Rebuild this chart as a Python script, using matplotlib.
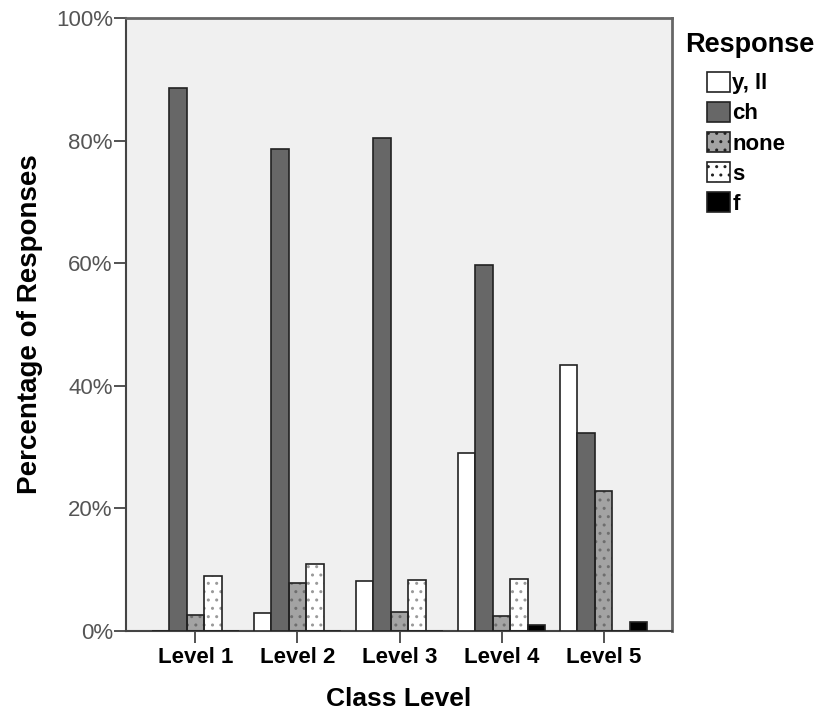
import numpy as np
import matplotlib.pyplot as plt
from matplotlib.patches import Patch

plt.rcParams['font.family'] = ['Liberation Sans', 'DejaVu Sans']

levels = ["Level 1", "Level 2", "Level 3", "Level 4", "Level 5"]
responses = ["y, ll", "ch", "none", "s", "f"]
y_ll = [0.0, 2.9, 8.2, 29.0, 43.4]
ch = [88.5, 78.6, 80.4, 59.7, 32.3]
none = [2.6, 7.8, 3.1, 2.4, 22.9]
s = [9.0, 10.9, 8.3, 8.5, 0.0]
f = [0.0, 0.0, 0.0, 1.0, 1.5]
series = [y_ll, ch, none, s, f]

fills = ["white", "#676767", "#a3a3a3", "white", "black"]
hatches = [None, None, "..", "..", None]
hatch_cols = [None, None, "#6e6e6e", "#9a9a9a", None]

fig = plt.figure(figsize=(8.2, 7.13), dpi=100)
ax = fig.add_axes([0.1537, 0.115, 0.6658, 0.8598])
ax.set_facecolor("#f0f0f0")

x = np.arange(len(levels))
w = 0.172
for i, vals in enumerate(series):
    pos = x + (i - 2) * w
    if hatches[i]:
        # hatch layer first, then the outline on top
        ax.bar(pos, vals, w, color=fills[i], hatch=hatches[i],
               edgecolor=hatch_cols[i], linewidth=0, zorder=2)
        ax.bar(pos, vals, w, fill=False, edgecolor="#222222",
               linewidth=1.2, zorder=3)
    else:
        ax.bar(pos, vals, w, color=fills[i], edgecolor="#222222",
               linewidth=1.2, zorder=3)

ax.set_xlim(-0.68, 4.67)
ax.set_ylim(0, 100)
ax.set_yticks([0, 20, 40, 60, 80, 100])
ax.set_yticklabels([f"{v}%" for v in range(0, 101, 20)], color="#555555",
                   fontsize=16)
ax.set_xticks(x)
ax.set_xticklabels(levels, fontsize=16, fontweight="bold")
ax.tick_params(axis="both", length=8.5, width=1.3, color="#444444")
ax.tick_params(axis="x", pad=3)
ax.tick_params(axis="y", pad=1)

for side in ["left", "bottom"]:
    ax.spines[side].set_color("#444444")
    ax.spines[side].set_linewidth(1.5)
for side in ["top", "right"]:
    ax.spines[side].set_color("#666666")
    ax.spines[side].set_linewidth(2)

ax.set_xlabel("Class Level", fontsize=19, fontweight="bold", labelpad=14)
ax.set_ylabel("Percentage of Responses", fontsize=20, fontweight="bold",
              labelpad=9)

fig.text(0.835, 0.927, "Response", fontsize=19.5, fontweight="bold",
         va="baseline", ha="left")

handles = []
for i, r in enumerate(responses):
    handles.append(Patch(facecolor=fills[i], edgecolor="#222222",
                         hatch=hatches[i], label=r, linewidth=1.2))
leg = fig.legend(handles=handles, loc="upper left",
                 bbox_to_anchor=(0.862, 0.8994), frameon=False,
                 handlelength=1.05, handleheight=1.0,
                 handletextpad=0.1, labelspacing=0.34, borderpad=0,
                 borderaxespad=0, prop={"size": 16, "weight": "bold"})

fig.savefig("out.png", dpi=100)
